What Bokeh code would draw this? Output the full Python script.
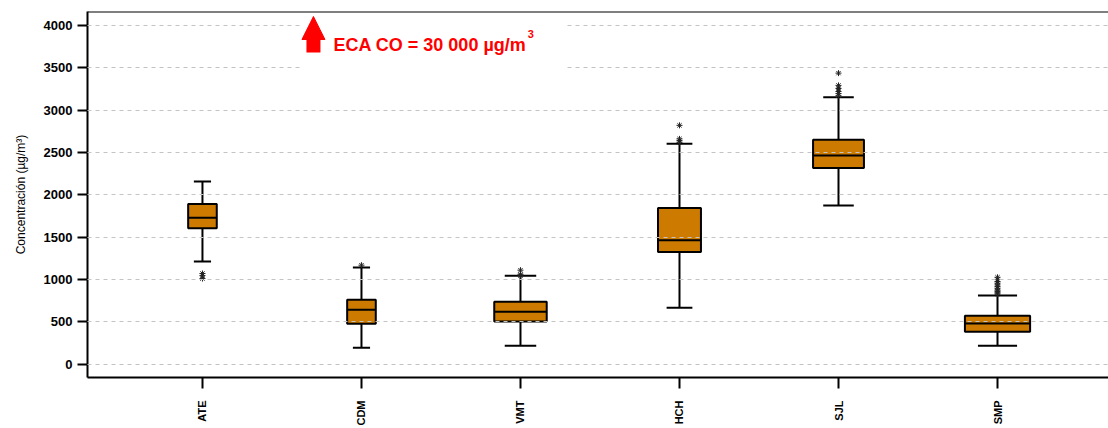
from bokeh.plotting import figure
from bokeh.models import (Range1d, FixedTicker, Arrow, NormalHead, Label,
                          BoxAnnotation, ColumnDataSource, Span)
from bokeh.embed import file_html
from bokeh.resources import INLINE
import math

# ---------------- data ----------------
stations = ["ATE", "CDM", "VMT", "HCH", "SJL", "SMP"]
lower_whisker = [1212, 192, 216, 664, 1873, 216]
q1 = [1605, 476, 504, 1325, 2316, 381]
median = [1727, 641, 617, 1463, 2463, 480]
q3 = [1892, 759, 735, 1844, 2651, 570]
upper_whisker = [2156, 1141, 1042, 2604, 3151, 811]
outliers = {
    "ATE": [1070, 1045, 1010],
    "CDM": [1168],
    "VMT": [1109, 1060, 1045],
    "HCH": [2820, 2660, 2640, 2620],
    "SJL": [3437, 3292, 3255, 3220, 3195, 3170],
    "SMP": [1025, 1000, 975, 955, 935, 915, 895, 875, 858, 842, 828],
}
y_ticks = [0, 500, 1000, 1500, 2000, 2500, 3000, 3500, 4000]
y_label = "Concentración (µg/m³)"
annotation_text = "ECA CO = 30 000 µg/m"
annotation_sup = "3"

# ---------------- styling ----------------
box_widths = [0.18, 0.18, 0.33, 0.27, 0.32, 0.41]
cap_ratio = 0.6
box_color = "#CC7A00"
font = "Liberation Sans"
y_top = 4165

xs = [i + 1 for i in range(len(stations))]

p = figure(width=1108, height=428, output_backend="svg", toolbar_location=None,
           x_range=Range1d(0.277, 6.698), y_range=Range1d(-159, y_top),
           min_border_left=87, min_border_right=0, min_border_top=11,
           min_border_bottom=51)
p.background_fill_color = "white"
p.border_fill_color = "white"
p.outline_line_color = None

# grid
p.xgrid.visible = False
p.ygrid.ticker = FixedTicker(ticks=y_ticks)
p.ygrid.grid_line_color = "#c4c4c4"
p.ygrid.grid_line_dash = "4 4"
p.ygrid.grid_line_width = 1
p.ygrid.level = "guide"

# boxes
src = ColumnDataSource(dict(
    x=xs, lw=lower_whisker, q1=q1, med=median, q3=q3, uw=upper_whisker,
    w=box_widths,
    cl=[x - w * cap_ratio / 2 for x, w in zip(xs, box_widths)],
    cr=[x + w * cap_ratio / 2 for x, w in zip(xs, box_widths)],
    ml=[x - w / 2 for x, w in zip(xs, box_widths)],
    mr=[x + w / 2 for x, w in zip(xs, box_widths)],
))
p.segment(x0="x", y0="q3", x1="x", y1="uw", source=src, line_color="black", line_width=2)
p.segment(x0="x", y0="q1", x1="x", y1="lw", source=src, line_color="black", line_width=2)
p.segment(x0="cl", y0="uw", x1="cr", y1="uw", source=src, line_color="black", line_width=2)
p.segment(x0="cl", y0="lw", x1="cr", y1="lw", source=src, line_color="black", line_width=2)
p.vbar(x="x", width="w", bottom="q1", top="q3", source=src,
       fill_color=box_color, line_color="black", line_width=2)
p.segment(x0="ml", y0="med", x1="mr", y1="med", source=src, line_color="black", line_width=2)

ox, oy = [], []
for x, s in zip(xs, stations):
    for v in outliers[s]:
        ox.append(x)
        oy.append(v)
p.scatter(ox, oy, marker="asterisk", size=6, line_color="#222222", line_width=1)

# axes
p.xaxis.ticker = FixedTicker(ticks=xs)
p.xaxis.major_label_overrides = {x: s for x, s in zip(xs, stations)}
p.xaxis.major_label_orientation = math.pi / 2
p.xaxis.major_label_text_font = font
p.xaxis.major_label_text_font_style = "bold"
p.xaxis.major_label_text_font_size = "11px"
p.xaxis.major_label_standoff = 12
p.xaxis.major_tick_out = 11
p.xaxis.major_tick_in = 0

p.yaxis.ticker = FixedTicker(ticks=y_ticks)
p.yaxis.major_label_text_font = font
p.yaxis.major_label_text_font_style = "bold"
p.yaxis.major_label_text_font_size = "13px"
p.yaxis.major_label_standoff = 5
p.yaxis.major_tick_out = 10
p.yaxis.major_tick_in = 0
p.yaxis.axis_label = y_label
p.yaxis.axis_label_text_font = font
p.yaxis.axis_label_text_font_style = "normal"
p.yaxis.axis_label_text_font_size = "12px"
p.yaxis.axis_label_text_color = "black"
p.yaxis.axis_label_standoff = 13

for ax in (p.xaxis, p.yaxis):
    ax.axis_line_width = 2
    ax.axis_line_color = "black"
    ax.major_tick_line_width = 2
    ax.major_tick_line_color = "black"
    ax.minor_tick_line_color = None
    ax.major_label_text_color = "black"

# top frame line
p.add_layout(Span(location=y_top, dimension="width", line_color="black", line_width=2))

# annotation: white box, arrow, text
p.add_layout(BoxAnnotation(left=1.62, right=3.29, bottom=3470, top=4140,
                           fill_color="white", fill_alpha=1.0, line_color=None,
                           level="annotation"))
p.add_layout(Arrow(end=NormalHead(size=23, fill_color="#ff0000", line_color="#ff0000"),
                   x_start=1.698, y_start=3681, x_end=1.698, y_end=4106,
                   line_color="#ff0000", line_width=14))
p.add_layout(Label(x=1.824, y=3764, text=annotation_text, text_color="#ff0000",
                   text_font=font, text_font_style="bold", text_font_size="18px",
                   text_baseline="alphabetic"))
p.add_layout(Label(x=3.045, y=3900, text=annotation_sup, text_color="#ff0000",
                   text_font=font, text_font_style="bold", text_font_size="11px",
                   text_baseline="alphabetic"))

open("out.html", "w").write(file_html(p, INLINE))
